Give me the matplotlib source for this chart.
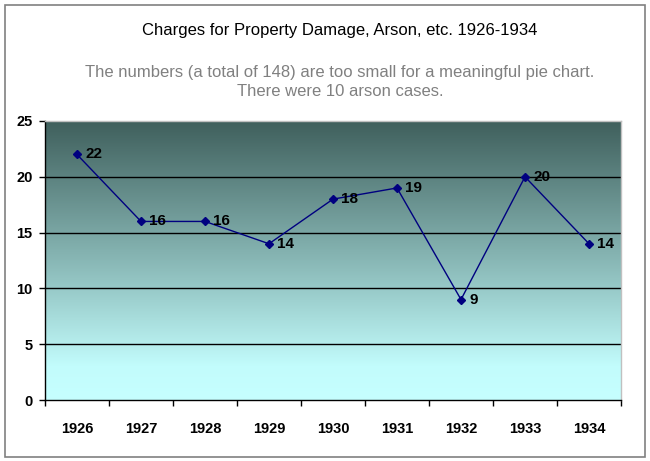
import numpy as np
import matplotlib
matplotlib.use("Agg")
import matplotlib.pyplot as plt
from matplotlib.patches import Rectangle
from matplotlib.colors import LinearSegmentedColormap

years = ["1926", "1927", "1928", "1929", "1930", "1931", "1932", "1933", "1934"]
charges = [22, 16, 16, 14, 18, 19, 9, 20, 14]
yticks = [0, 5, 10, 15, 20, 25]

plt.rcParams['font.family'] = ['Liberation Sans', 'DejaVu Sans']

fig = plt.figure(figsize=(6.5, 4.61), dpi=100)
fig.patch.set_facecolor('white')
fig.patches.append(Rectangle((5/650, 4/461), 640/650, 452/461, transform=fig.transFigure,
                             fill=False, edgecolor='#808080', linewidth=1.2))

ax = fig.add_axes([45/650, 61/461, 576/650, 279/461])
x = np.arange(len(years))
ax.set_xlim(-0.5, len(years) - 0.5)
ax.set_ylim(0, 25)

cmap = LinearSegmentedColormap.from_list(
    'g', [(0.0, '#c6ffff'), (0.12, '#c2fcfc'), (0.5, '#88b7b5'), (1.0, '#3f5f5c')])
grad = np.linspace(0, 1, 256).reshape(-1, 1)
ax.imshow(grad, cmap=cmap, origin='lower', aspect='auto',
          extent=(-0.5, len(years) - 0.5, 0, 25), zorder=0)

for yv in yticks[1:-1]:
    ax.axhline(yv, color='black', linewidth=1, zorder=1)

ax.plot(x, charges, color='#000080', linewidth=1, marker='D', markersize=4,
        markerfacecolor='#000080', markeredgecolor='#000080', zorder=3)
for xi, v in zip(x, charges):
    ax.annotate(str(v), (xi, v), xytext=(6, 0), textcoords='offset points',
                ha='left', va='center', fontsize=11, fontweight='bold', color='black', zorder=4)

ax.set_yticks(yticks)
ax.set_yticklabels([str(t) for t in yticks], fontsize=10.5, fontweight='bold')
ax.set_xticks(np.arange(-0.5, len(years), 1), minor=False)
ax.set_xticklabels([])
ax.set_xticks(x, minor=True)
ax.set_xticklabels(years, minor=True, fontsize=10.5, fontweight='bold')
ax.tick_params(axis='x', which='major', direction='out', length=4, width=1)
ax.tick_params(axis='x', which='minor', length=0, pad=16)
ax.tick_params(axis='y', direction='out', length=4, width=1, pad=5)

for s in ['left', 'bottom']:
    ax.spines[s].set_color('black')
    ax.spines[s].set_linewidth(1)
for s in ['top', 'right']:
    ax.spines[s].set_color('#c0c0c0')
    ax.spines[s].set_linewidth(1)

fig.text(340/650, 1 - 30/461, "Charges for Property Damage, Arson, etc. 1926-1934",
         ha='center', va='center', fontsize=12, color='black')
fig.text(340/650, 1 - 72/461, "The numbers (a total of 148) are too small for a meaningful pie chart.",
         ha='center', va='center', fontsize=12, color='#808080')
fig.text(340/650, 1 - 92/461, "There were 10 arson cases.",
         ha='center', va='center', fontsize=12, color='#808080')

fig.savefig('out.png', dpi=100)
